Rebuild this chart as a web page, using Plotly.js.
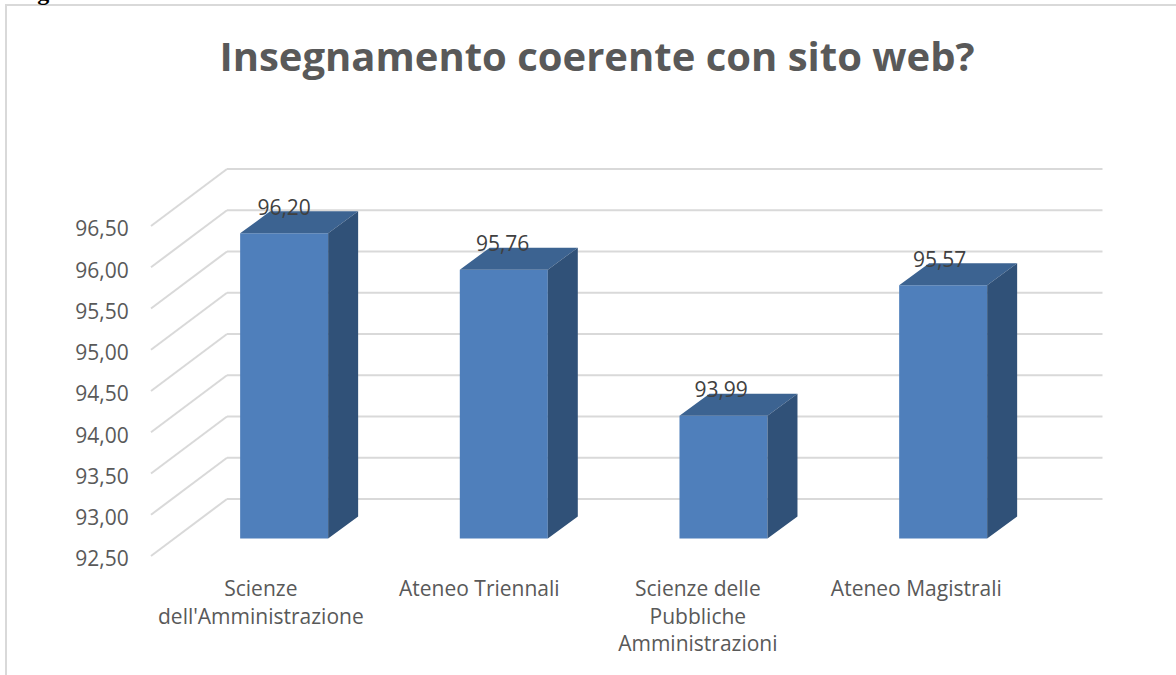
<!DOCTYPE html>
<html>
<head>
<meta charset="utf-8">
<script src="https://cdn.plot.ly/plotly-3.0.1.min.js"></script>
<style>html,body{margin:0;padding:0;background:#fff;overflow:hidden}</style>
</head>
<body>
<div id="chart" style="width:1176px;height:675px"></div>
<script>
const categories = ["Scienze<br>dell'Amministrazione", "Ateneo Triennali", "Scienze delle<br>Pubbliche<br>Amministrazioni", "Ateneo Magistrali"];
const values = [96.20, 95.76, 93.99, 95.57];
const yTicks = [92.5, 93, 93.5, 94, 94.5, 95, 95.5, 96, 96.5];

const PX_X = 219.67, PX_Y = 82.5;
const W = 1176, H = 675;
const plotL = 145, plotR = 1108, plotT = 160, plotB = 560;
const floorV = 92.5, leftX = -0.5;
const xMin = leftX - 6 / PX_X, xMax = xMin + (plotR - plotL) / PX_X;
const yMin = floorV - 4 / PX_Y, yMax = yMin + (plotB - plotT) / PX_Y;
const gridEnd = leftX + (1102.5 - 151) / PX_X;
const pxToPaperX = px => (px - plotL) / (plotR - plotL);
const pxToPaperY = py => (plotB - py) / (plotB - plotT);

const wallDX = 76 / PX_X, wallDY = 57 / PX_Y;
const barShiftX = 23.3 / PX_X, barShiftY = 17.4 / PX_Y;
const barDX = 30 / PX_X, barDY = 22 / PX_Y;
const barW = 88 / PX_X;
const labelStep = 218.5 / PX_X;
const idx = values.map((_, i) => i);
const barBase = floorV + barShiftY;

const shapes = [];
yTicks.forEach(v => {
  const line = {color: '#d9d9d9', width: 2};
  shapes.push({type: 'line', layer: 'below', xref: 'x', yref: 'y', x0: leftX, y0: v, x1: leftX + wallDX, y1: v + wallDY, line});
  shapes.push({type: 'line', layer: 'below', xref: 'x', yref: 'y', x0: leftX + wallDX, y0: v + wallDY, x1: gridEnd, y1: v + wallDY, line});
});
const frame = {color: '#d9d9d9', width: 2};
shapes.push({type: 'line', layer: 'below', xref: 'paper', yref: 'paper', x0: pxToPaperX(6), y0: pxToPaperY(4), x1: pxToPaperX(6), y1: pxToPaperY(675), line: frame});
shapes.push({type: 'line', layer: 'below', xref: 'paper', yref: 'paper', x0: pxToPaperX(5), y0: pxToPaperY(5), x1: pxToPaperX(1176), y1: pxToPaperY(5), line: frame});

const topX = [], topY = [], sideX = [], sideY = [];
idx.forEach(i => {
  const l = i + barShiftX - barW / 2, r = i + barShiftX + barW / 2, t = values[i] + barShiftY;
  topX.push(l, r, r + barDX, l + barDX, l, null);
  topY.push(t, t, t + barDY, t + barDY, t, null);
  sideX.push(r, r + barDX, r + barDX, r, r, null);
  sideY.push(t, t + barDY, barBase + barDY, barBase, t, null);
});

const traces = [
  {type: 'bar', x: idx.map(i => i + barShiftX), y: values.map(v => v - floorV), base: barBase, width: barW,
   marker: {color: '#4f7fbb', line: {width: 0}}, hoverinfo: 'skip', showlegend: false},
  {type: 'scatter', mode: 'lines', x: topX, y: topY, fill: 'toself', fillcolor: '#3c6391', line: {width: 0, color: '#3c6391'}, hoverinfo: 'skip', showlegend: false},
  {type: 'scatter', mode: 'lines', x: sideX, y: sideY, fill: 'toself', fillcolor: '#305178', line: {width: 0, color: '#305178'}, hoverinfo: 'skip', showlegend: false},
  {type: 'scatter', mode: 'text', x: idx.map(i => i * labelStep + barShiftX), y: values.map(v => v + barShiftY + 24 / PX_Y),
   text: values.map(v => v.toFixed(2).replace('.', ',')), textposition: 'middle center',
   textfont: {family: 'Open Sans', size: 21, color: '#404040'}, hoverinfo: 'skip', showlegend: false, cliponaxis: false}
];

const layout = {
  width: W, height: H, showlegend: false, autosize: false,
  paper_bgcolor: '#fff', plot_bgcolor: 'rgba(0,0,0,0)',
  separators: ',.',
  margin: {l: plotL, r: W - plotR, t: plotT, b: H - plotB, pad: 0},
  title: {text: 'Insegnamento coerente con sito web?', x: 597 / W, xanchor: 'center', y: 1 - 57 / H, yanchor: 'middle',
          font: {family: 'Open Sans', size: 40, weight: 700, color: '#595959'}},
  xaxis: {type: 'linear', range: [xMin, xMax], tickmode: 'array', tickvals: idx.map(i => i * labelStep), ticktext: categories,
          showgrid: false, zeroline: false, showline: false, ticks: 'outside', ticklen: 10, tickcolor: 'rgba(0,0,0,0)',
          tickfont: {family: 'Open Sans', size: 21, color: '#595959'}, tickangle: 0},
  yaxis: {type: 'linear', range: [yMin, yMax], tickmode: 'array', tickvals: yTicks, tickformat: '.2f',
          showgrid: false, zeroline: false, showline: false, ticks: 'outside', ticklen: 11, tickcolor: 'rgba(0,0,0,0)',
          ticklabelshift: 3,
          tickfont: {family: 'Open Sans', size: 21, color: '#595959'}},
  shapes,
  annotations: [{xref: 'paper', yref: 'paper', x: pxToPaperX(14), y: pxToPaperY(-8), xanchor: 'left', yanchor: 'middle', showarrow: false,
                 text: '<b>Figure</b>', font: {family: 'Liberation Serif', size: 24, color: '#000'}}]
};
Plotly.newPlot('chart', traces, layout, {displayModeBar: false, staticPlot: true});
</script>
</body>
</html>
